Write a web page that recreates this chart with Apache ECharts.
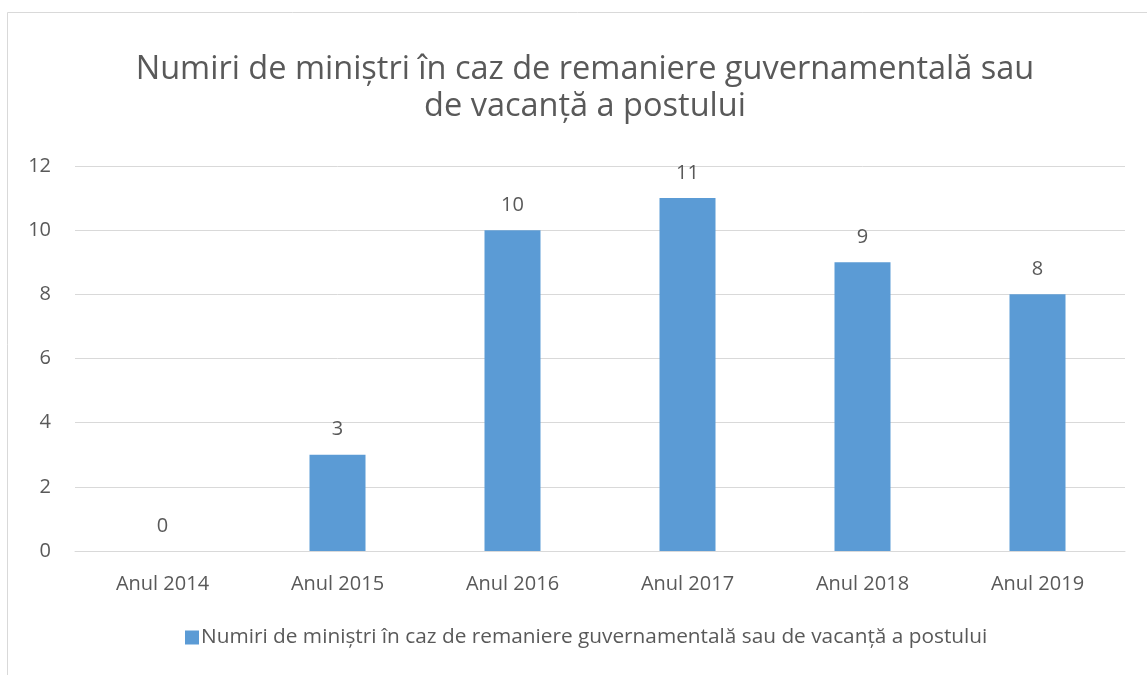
<!DOCTYPE html>
<html>
  <head>
    <meta charset="UTF-8" />
    <title>Numiri de miniștri</title>
    <script src="https://cdn.jsdelivr.net/npm/echarts@6/dist/echarts.min.js"></script>
    <style>
      body { margin: 0; background: #fff; }
    </style>
  </head>
  <body>
    <div id="chart" style="width: 1147px; height: 675px"></div>
  </body>
  <script>
    const categories = ["Anul 2014", "Anul 2015", "Anul 2016", "Anul 2017", "Anul 2018", "Anul 2019"];
    const values = [0, 3, 10, 11, 9, 8];
    const seriesName = "Numiri de miniștri în caz de remaniere guvernamentală sau de vacanță a postului";
    const titleText = "Numiri de miniștri în caz de remaniere guvernamentală sau\nde vacanță a postului";

    const textColor = "#595959";
    const font = "Open Sans";

    let myChart = echarts.init(document.getElementById("chart"));

    myChart.setOption({
      backgroundColor: "#fff",
      textStyle: { fontFamily: font },
      // outer frame of the chart area (cropped at right and bottom)
      graphic: [
        {
          type: "rect",
          shape: { x: 7.5, y: 12.5, width: 1200, height: 700 },
          style: { fill: "none", stroke: "#d9d9d9", lineWidth: 1 },
          silent: true
        }
      ],
      title: {
        text: titleText,
        left: 580,
        top: 46,
        textAlign: "center",
        textStyle: {
          fontFamily: font,
          fontSize: 32.5,
          fontWeight: "normal",
          color: textColor,
          lineHeight: 37
        }
      },
      legend: {
        data: [seriesName],
        bottom: 22,
        left: 180,
        itemWidth: 14,
        itemHeight: 14,
        itemGap: 4,
        icon: "rect",
        textStyle: { fontFamily: font, fontSize: 20.8, color: textColor, padding: [0, 0, 0, -3] }
      },
      grid: {
        left: 75,
        right: 22,
        top: 166,
        bottom: 124,
        containLabel: false
      },
      xAxis: {
        type: "category",
        data: categories,
        axisLine: { lineStyle: { color: "#d9d9d9" } },
        axisTick: { show: false },
        axisLabel: { color: textColor, fontSize: 20, margin: 23, fontFamily: font }
      },
      yAxis: {
        type: "value",
        min: 0,
        max: 12,
        interval: 2,
        axisLine: { show: false },
        axisTick: { show: false },
        splitLine: { lineStyle: { color: "#d9d9d9" } },
        axisLabel: { color: textColor, fontSize: 20, margin: 24, fontFamily: font }
      },
      series: [
        {
          name: seriesName,
          type: "bar",
          data: values,
          barWidth: 56,
          itemStyle: { color: "#5b9bd5" },
          label: {
            show: true,
            position: "top",
            distance: 15,
            color: textColor,
            fontSize: 20,
            fontFamily: font
          }
        }
      ]
    });
  </script>
</html>
